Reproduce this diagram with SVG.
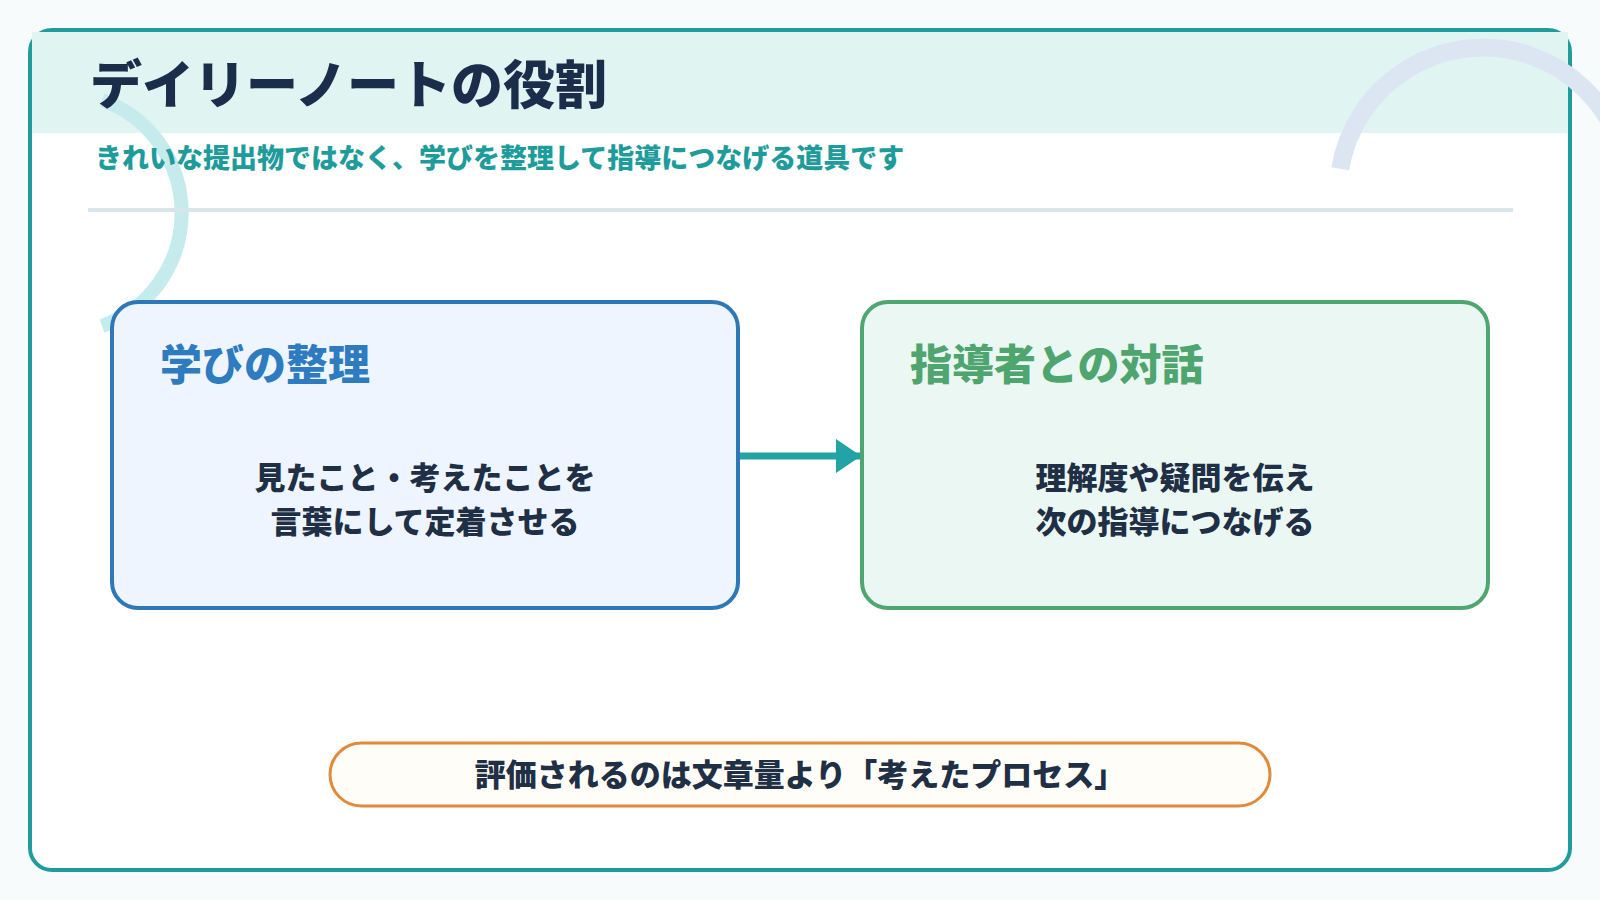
<svg xmlns="http://www.w3.org/2000/svg" width="1600" height="900" viewBox="0 0 1600 900">
<defs>
<style>
.t{font-family:"Noto Sans CJK JP","Noto Sans",sans-serif;font-weight:900}
.title{font-size:52px;fill:#1A2E4B}
.sub{font-size:27px;fill:#1E9C9C}
.ct{font-size:42px}
.body{font-size:31px;fill:#1F2F45;text-anchor:middle}
</style>
<marker id="ah" markerUnits="userSpaceOnUse" markerWidth="26" markerHeight="34" refX="25" refY="17" orient="auto">
<path d="M0,0 L25,17 L0,34 Z" fill="#22A3A6"/>
</marker>
</defs>
<rect x="0" y="0" width="1600" height="900" fill="#F7FBFB"/>
<g id="frame">
<rect x="30" y="30" width="1540" height="840" rx="22" fill="#FFFFFF" stroke="#1E9C9E" stroke-width="4"/>
<rect x="32" y="32" width="1536" height="101" fill="#E0F4F2"/>
</g>
<g id="decor" fill="none">
<path d="M1340.2,168.8 A145,145 0 1 1 1608,266.5" stroke="#DCE6F3" stroke-width="18"/>
<path d="M102,100 A120,120 0 0 1 102,326" stroke="#C6EBEC" stroke-width="14"/>
</g>
<g id="header">
<text class="t title" x="90" y="104">デイリーノートの役割</text>
<text class="t sub" x="95" y="168">きれいな提出物ではなく、学びを整理して指導につなげる道具です</text>
<line x1="88" y1="210" x2="1513" y2="210" stroke="#D8E6EC" stroke-width="4"/>
</g>
<g id="connectors">
<line x1="740" y1="456" x2="861" y2="456" stroke="#22A3A6" stroke-width="7" marker-end="url(#ah)"/>
</g>
<g id="node-learning">
<rect x="112" y="302" width="626" height="306" rx="26" fill="#EEF5FE" stroke="#2F78B8" stroke-width="4"/>
<text class="t ct" x="160" y="380" fill="#2F7BC0">学びの整理</text>
<text class="t body" x="425" y="489">見たこと・考えたことを</text>
<text class="t body" x="425" y="533">言葉にして定着させる</text>
</g>
<g id="node-dialogue">
<rect x="862" y="302" width="626" height="306" rx="26" fill="#EAF7F3" stroke="#4EA670" stroke-width="4"/>
<text class="t ct" x="910" y="380" fill="#4FA56E">指導者との対話</text>
<text class="t body" x="1175" y="489">理解度や疑問を伝え</text>
<text class="t body" x="1175" y="533">次の指導につなげる</text>
</g>
<g id="node-note">
<rect x="330" y="743" width="940" height="63" rx="31.5" fill="#FFFDF8" stroke="#E08A3A" stroke-width="3"/>
<text class="t body" x="800" y="786" fill="#1A2E4B">評価されるのは文章量より「考えたプロセス」</text>
</g>
</svg>
